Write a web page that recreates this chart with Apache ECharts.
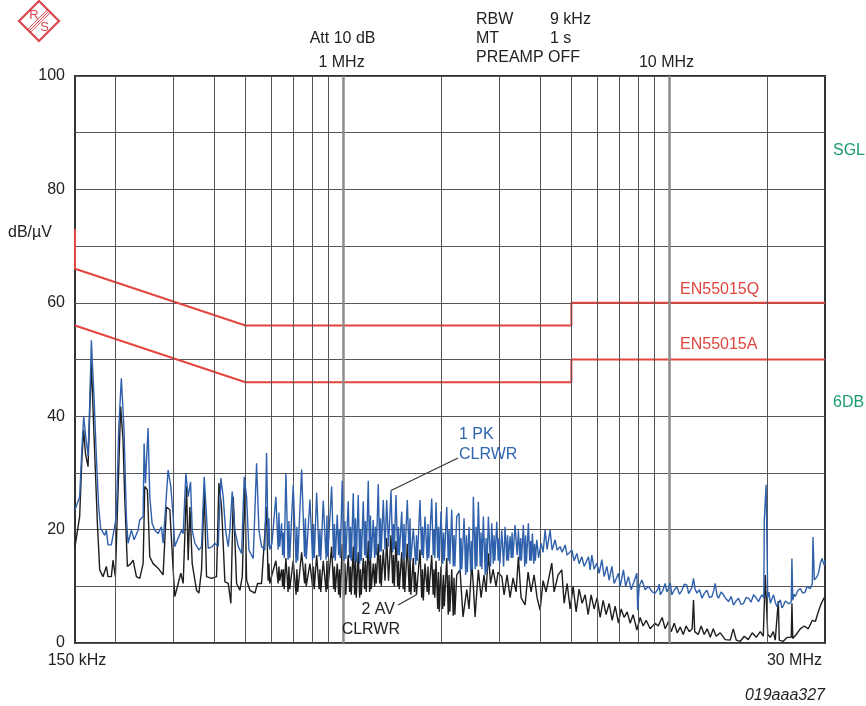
<!DOCTYPE html>
<html><head><meta charset="utf-8">
<script src="https://cdn.jsdelivr.net/npm/echarts@6/dist/echarts.min.js"></script>
<style>html,body{margin:0;padding:0;background:#fff}#c{width:866px;height:706px}</style>
</head><body><div id="c"></div>
<script>
const FONT = "'Liberation Sans', Arial, Helvetica, sans-serif";

// frequency axis (MHz, log scale)
const freqMin = 0.15;
const freqMax = 30;
const freqGridLines = [0.2,0.3,0.4,0.5,0.6,0.7,0.8,0.9,1,2,3,4,5,6,7,8,9,10,20];
const freqMajorLines = [1,10];
const yTickLabels = [0,20,40,60,80,100];

// limit lines [MHz, dBuV]
const limitQP = [[0.15,73],[0.15,66],[0.5,56],[5,56],[5,60],[30,60]];
const limitAV = [[0.15,56],[0.5,46],[5,46],[5,50],[30,50]];

// 1 PK CLRWR trace [MHz, dBuV]
const pkTrace = [
[0.150,23.5],[0.155,25.8],[0.1576,34.6],[0.1595,39.9],[0.1614,37.0],[0.1645,33.0],[0.1664,42.0],[0.1684,53.4],[0.170,48.0],[0.1716,43.4],[0.1744,32.9],[0.1773,24.0],[0.1798,20.2],[0.185,19.0],[0.1872,19.9],[0.1894,17.3],[0.1939,17.3],[0.1976,19.9],[0.2009,22.3],[0.2042,37.6],[0.2081,46.7],[0.2121,37.6],[0.2156,22.3],[0.2182,17.6],[0.2234,19.9],[0.2277,18.2],[0.2342,19.9],[0.237,21.7],[0.2427,22.3],[0.2444,35.2],[0.2467,28.2],[0.2514,37.9],[0.2544,25.8],[0.2586,21.1],[0.2635,19.9],[0.2698,19.3],[0.2762,20.5],[0.2795,17.6],[0.2841,23.5],[0.2896,30.5],[0.2951,27.6],[0.3001,22.3],[0.3036,17.0],[0.3109,18.5],[0.3183,19.9],[0.3221,19.3],[0.3283,29.9],[0.3337,25.8],[0.3393,28.4],[0.3433,19.9],[0.3498,17.6],[0.3599,16.4],[0.3667,17.0],[0.3737,29.3],[0.3799,22.3],[0.3844,16.7],[0.3954,17.0],[0.4029,17.6],[0.4126,17.0],[0.4204,29.1],[0.4274,25.8],[0.4345,19.9],[0.4428,17.0],[0.448,19.9],[0.4555,26.7],[0.4641,19.9],[0.4753,17.0],[0.4866,15.8],[0.4958,29.3],[0.5041,25.8],[0.5124,16.4],[0.5283,14.9],[0.541,31.7],[0.550,19.9],[0.5604,17.0],[0.5737,16.4],
[0.5805,33.5],[0.5868,17.0],[0.5902,22.0],[0.5936,16.5],[0.6028,17.5],[0.6200,25.8],[0.6299,16.5],[0.6335,23.0],[0.6371,17.0],[0.6456,21.1],[0.6502,15.5],[0.6539,19.5],[0.6576,15.0],[0.6655,29.9],[0.6759,14.7],[0.6798,21.5],[0.6837,15.0],[0.7007,27.8],[0.7152,14.1],[0.7193,20.5],[0.7234,14.5],[0.7437,30.6],[0.7594,15.2],[0.7638,22.0],[0.7682,14.8],[0.7887,25.3],[0.8037,14.7],[0.8083,21.0],[0.8129,15.0],[0.8269,26.5],[0.8416,15.2],[0.8464,20.0],[0.8512,14.6],[0.8664,25.1],[0.8842,14.7],[0.8893,22.5],[0.8944,15.2],[0.9193,27.6],[0.9324,15.0],[0.9377,21.0],[0.9430,14.5],[0.9565,22.6],[0.9659,15.5],[0.9714,20.0],[0.9769,15.0],[0.9908,28.6],[1.0041,14.5],[1.0099,21.5],[1.0157,14.8],[1.0338,25.0],[1.0440,15.0],[1.0500,20.5],[1.0560,14.5],[1.0710,26.4],[1.0815,14.5],[1.0877,22.0],[1.0939,14.2],[1.1094,26.1],[1.1205,14.0],[1.1269,20.0],[1.1333,14.5],[1.1495,25.0],[1.1607,15.5],[1.1674,21.5],[1.1741,15.0],[1.1908,28.6],[1.2024,14.5],[1.2093,22.5],[1.2162,15.0],[1.2336,21.7],[1.2457,15.0],[1.2528,20.5],[1.2599,15.5],[1.2780,28.0],[1.2907,16.0],[1.2981,22.0],[1.3055,16.2],[1.3241,25.2],[1.3401,16.5],[1.3563,25.2],[1.3740,17.0],[1.3983,26.9],[1.4150,16.0],[1.4231,21.0],[1.4312,16.5],[1.4483,26.1],[1.4659,15.5],[1.4743,20.5],[1.4827,15.5],[1.5082,23.2],[1.5240,14.5],[1.5327,21.0],[1.5414,15.0],[1.5689,25.2],[1.5901,15.0],[1.5992,22.0],[1.6083,14.5],[1.6368,20.2],[1.6648,13.8],[1.6743,19.0],[1.6838,14.5],[1.7164,25.2],[1.7369,15.5],[1.7469,20.5],[1.7569,15.0],[1.7777,22.3],[1.8055,14.5],[1.8158,21.0],[1.8261,15.0],[1.8642,25.5],[1.8840,15.5],[1.8948,20.0],[1.9056,15.0],[1.9218,24.8],[1.9451,15.0],[1.9562,20.5],[1.9673,14.5],[1.9910,23.2],[2.0150,14.0],[2.0266,19.5],[2.0382,14.5],[2.0730,24.0],[2.0950,14.5],[2.1070,20.0],[2.1190,14.0],[2.1475,23.5],[2.1703,13.5],[2.1827,19.0],[2.1951,13.5],[2.2248,22.3],
[2.261,22.9],[2.280,12.5],[2.293,18.5],[2.306,13.0],[2.343,22.0],[2.370,12.0],[2.384,19.0],[2.398,12.5],[2.427,20.5],[2.456,12.5],[2.470,18.0],[2.484,13.0],[2.502,25.8],[2.535,13.0],[2.550,20.5],[2.565,13.5],[2.592,24.9],[2.627,13.5],[2.642,19.5],[2.657,13.0],[2.685,22.3],[2.720,12.0],[2.736,18.5],[2.752,12.5],[2.782,22.3],[2.825,13.5],[2.849,21.1],[2.880,14.0],[2.896,19.0],[2.912,14.5],[2.952,21.4],[2.983,14.5],[3.000,18.5],[3.017,14.0],[3.058,19.9],[3.097,13.5],[3.130,20.5],[3.168,14.5],[3.186,19.0],[3.204,14.5],[3.243,18.8],[3.270,15.0],[3.289,19.5],[3.308,15.0],[3.359,20.8],[3.407,15.5],[3.439,19.9],[3.473,14.5],[3.493,18.5],[3.513,14.5],[3.562,20.8],[3.597,13.5],[3.618,19.0],[3.639,14.0],[3.690,21.1],[3.727,14.5],[3.748,18.0],[3.769,14.5],[3.796,19.3],[3.833,14.0],[3.855,17.5],[3.877,14.5],[3.916,18.2],[3.966,15.0],
[4.037,17.6],[4.095,16.0],[4.153,19.9],[4.212,16.5],[4.302,19.9],[4.364,16.4],[4.457,18.2],[4.521,16.4],[4.617,17.0],[4.684,16.0],[4.784,17.3],[4.852,15.5],[5.016,16.4],[5.099,14.5],[5.197,15.8],[5.282,14.0],[5.385,15.2],[5.472,13.5],[5.641,15.2],[5.709,12.9],[5.778,15.5],[5.873,13.0],[5.986,14.1],[6.084,12.3],[6.201,14.7],[6.303,11.7],[6.424,13.5],[6.530,11.1],[6.655,13.5],[6.765,10.5],[6.974,12.3],[7.058,10.0],[7.224,12.9],[7.337,10.0],[7.483,11.7],[7.627,9.4],[7.942,12.3],[7.988,5.8],[8.072,10.0],[8.227,11.1],[8.421,9.4],[8.619,10.0],[8.848,9.0],[9.038,8.8],
[9.233,9.6],[9.30,10.4],[9.366,8.5],[9.53,9.2],[9.701,10.5],[9.81,9.0],[9.929,9.6],[10.05,10.6],[10.17,8.5],[10.35,9.4],[10.54,9.9],[10.73,8.6],[10.92,9.3],[11.11,10.4],[11.31,10.2],[11.45,8.7],[11.58,9.0],[11.72,9.8],[11.85,11.4],[11.98,9.5],[12.14,8.8],[12.36,9.4],[12.58,7.9],[12.80,8.8],[13.02,9.3],[13.26,8.0],[13.50,8.2],[13.66,9.2],[13.82,10.5],[13.98,8.4],[14.14,7.9],[14.40,9.0],[14.65,8.5],[14.91,7.8],[15.18,7.3],[15.45,8.2],[15.72,6.7],[16.00,7.4],[16.29,7.9],[16.58,6.8],[16.88,7.0],[17.18,8.0],[17.48,7.9],[17.79,7.2],[18.11,8.5],[18.43,8.0],[18.76,7.3],[18.99,8.0],[19.22,8.5],[19.47,8.0],[19.54,21.7],[19.71,21.7],[19.79,27.9],[19.95,27.9],[20.02,8.0],[20.20,9.0],[20.38,7.0],[20.62,7.8],[20.86,8.5],[21.11,7.2],[21.37,6.4],[21.62,7.0],[21.88,7.6],[22.13,6.2],[22.39,6.7],[22.68,7.4],[22.98,7.6],[23.30,6.9],[23.64,7.3],[23.75,14.9],[23.89,7.5],[24.10,8.6],[24.31,8.2],[24.75,9.2],[25.19,9.6],[25.64,8.8],[26.10,9.0],[26.40,10.0],[26.72,10.2],[27.05,9.6],[27.43,10.5],[27.56,18.7],[27.82,11.1],[28.09,10.8],[28.36,11.7],[28.70,12.5],[29.02,14.0],[29.37,14.9],[29.60,14.3],[29.85,13.7],[30,14.6]
];

// 2 AV CLRWR trace [MHz, dBuV]
const avTrace = [
[0.150,17.0],[0.155,22.3],[0.1576,32.9],[0.1595,37.6],[0.1614,33.5],[0.1645,31.1],[0.1664,40.5],[0.1684,49.3],[0.1704,41.1],[0.1732,30.5],[0.1757,21.1],[0.1786,12.9],[0.1828,11.7],[0.1872,13.5],[0.1894,11.7],[0.1939,11.7],[0.1962,14.6],[0.1995,11.7],[0.2023,22.9],[0.2071,41.7],[0.2106,35.8],[0.2131,25.8],[0.2172,13.5],[0.2224,14.0],[0.2261,14.6],[0.2315,11.7],[0.237,11.4],[0.2427,14.0],[0.2456,27.6],[0.2502,27.0],[0.2544,15.2],[0.2604,14.0],[0.2698,13.2],[0.2795,12.0],[0.2862,24.0],[0.2931,23.5],[0.3001,12.9],[0.3036,8.2],[0.3109,10.5],[0.3168,12.3],[0.3221,10.5],[0.3298,27.6],[0.3337,14.6],[0.3377,24.0],[0.3433,14.0],[0.354,9.3],[0.3599,8.8],[0.3667,12.9],[0.3737,27.0],[0.3799,11.7],[0.3935,11.4],[0.4077,11.7],[0.4145,28.2],[0.4224,24.0],[0.4325,10.8],[0.4428,10.5],[0.4512,7.0],[0.4587,25.8],[0.4697,10.5],[0.4809,9.3],[0.4889,11.7],[0.4981,27.6],[0.5041,11.1],[0.5161,9.3],[0.5346,8.8],[0.5448,10.5],[0.5604,10.5],
[0.5805,24.0],[0.5868,11.0],[0.5902,14.0],[0.5936,10.5],[0.6028,12.0],[0.6200,14.5],[0.6299,10.5],[0.6335,13.5],[0.6371,11.0],[0.6456,13.0],[0.6502,10.0],[0.6539,13.0],[0.6576,9.5],[0.6655,15.0],[0.6759,9.0],[0.6798,13.5],[0.6837,9.5],[0.7007,14.5],[0.7152,8.5],[0.7193,13.0],[0.7234,9.0],[0.7437,16.0],[0.7594,10.5],[0.7638,14.0],[0.7682,10.0],[0.7887,14.0],[0.8037,10.0],[0.8083,13.5],[0.8129,9.5],[0.8269,15.5],[0.8416,9.5],[0.8464,13.0],[0.8512,9.0],[0.8664,14.5],[0.8842,9.0],[0.8893,14.5],[0.8944,9.5],[0.9193,17.0],[0.9324,9.5],[0.9377,13.5],[0.9430,9.0],[0.9565,14.0],[0.9659,8.5],[0.9714,13.0],[0.9769,8.0],[0.9908,17.5],[1.0041,8.0],[1.0099,14.0],[1.0157,8.5],[1.0338,15.5],[1.0440,9.0],[1.0500,13.5],[1.0560,8.5],[1.0710,17.0],[1.0815,8.5],[1.0877,15.0],[1.0939,8.0],[1.1094,16.0],[1.1205,8.0],[1.1269,13.0],[1.1333,8.5],[1.1495,15.0],[1.1607,9.5],[1.1674,14.5],[1.1741,9.0],[1.1908,18.0],[1.2024,9.0],[1.2093,15.5],[1.2162,9.5],[1.2336,14.0],[1.2457,10.0],[1.2528,14.0],[1.2599,10.5],[1.2780,17.5],[1.2907,10.5],[1.2981,15.5],[1.3055,10.0],[1.3241,16.5],[1.3401,11.0],[1.3563,18.5],[1.3740,11.0],[1.3983,19.0],[1.4150,10.5],[1.4231,15.5],[1.4312,10.0],[1.4483,18.0],[1.4659,10.0],[1.4743,14.5],[1.4827,9.5],[1.5082,16.0],[1.5240,9.5],[1.5327,15.0],[1.5414,9.0],[1.5689,17.5],[1.5901,9.0],[1.5992,15.5],[1.6083,8.5],[1.6368,15.0],[1.6500,9.0],[1.6600,12.5],[1.6743,8.5],[1.7164,16.5],[1.7369,8.0],[1.7469,13.0],[1.7569,7.5],[1.7777,14.0],[1.8055,9.0],[1.8158,13.5],[1.8261,8.5],[1.8642,15.5],[1.8840,8.5],[1.8948,13.0],[1.9056,8.0],[1.9218,14.5],[1.9451,6.0],[1.9562,12.5],[1.9673,5.5],[1.9910,13.5],[2.0150,6.0],[2.0266,12.0],[2.0382,6.5],[2.0730,15.0],[2.0950,5.0],[2.1070,12.0],[2.1190,5.5],[2.1475,13.0],[2.1703,4.8],[2.1827,11.5],[2.1951,5.0],[2.2248,12.0],
[2.277,12.9],[2.326,4.6],[2.388,9.4],[2.427,6.0],[2.474,14.1],[2.502,10.0],[2.532,4.6],[2.592,12.9],[2.642,8.0],[2.698,12.0],[2.736,9.0],[2.782,15.8],[2.825,10.5],[2.875,13.0],[2.937,10.0],[2.979,12.5],[3.058,11.7],[3.109,8.5],[3.175,12.0],[3.243,8.0],[3.312,11.5],[3.383,9.0],[3.439,15.2],[3.505,8.0],[3.606,6.7],[3.683,12.5],[3.761,9.0],[3.842,12.0],[3.924,8.0],[4.009,5.8],[4.095,11.0],[4.182,9.0],[4.354,14.1],[4.426,9.0],[4.553,12.0],[4.673,12.9],[4.750,7.0],[4.852,10.5],[4.957,6.0],[5.063,10.0],[5.171,5.5],[5.282,9.5],[5.395,7.0],[5.511,8.5],[5.629,5.0],[5.750,8.5],[5.873,6.0],[5.998,8.0],[6.127,4.5],[6.258,7.5],[6.391,5.0],[6.530,7.0],[6.670,4.0],[6.813,6.5],[6.974,3.5],[7.108,6.0],[7.260,4.5],[7.415,5.5],[7.573,3.5],[7.734,5.0],[7.942,2.3],[8.128,4.5],[8.303,3.0],[8.481,4.0],[8.723,2.5],[9.038,3.5],
[9.233,3.0],[9.497,4.5],[9.701,2.5],[9.929,3.8],[10.12,2.0],[10.34,3.5],[10.56,1.8],[10.79,2.8],[11.02,1.5],[11.25,3.0],[11.50,2.0],[11.74,2.5],[11.85,7.6],[11.95,2.0],[12.25,1.5],[12.51,3.0],[12.78,1.5],[13.05,2.5],[13.34,1.0],[13.62,2.5],[13.91,1.2],[14.31,1.8],[14.83,0.6],[15.36,0.5],[15.69,2.5],[16.03,0.5],[16.49,0.3],[16.96,1.2],[17.44,0.6],[17.94,1.8],[18.46,1.0],[18.99,2.0],[19.40,1.2],[19.67,12.0],[19.81,12.0],[20.02,1.5],[20.38,1.0],[20.82,2.0],[21.11,0.5],[21.37,0.8],[21.57,7.4],[21.72,0.5],[22.34,0.3],[22.98,1.0],[23.64,1.0],[23.75,7.0],[23.89,0.8],[24.49,1.5],[25.19,2.5],[25.91,3.0],[26.66,2.5],[27.43,4.0],[28.02,3.8],[28.62,5.5],[29.23,7.0],[29.85,8.0],[30,8.2]
];

// annotation anchors [MHz, dBuV]
const pkLeaderTarget = [1.3983, 26.9];
const avLeaderTarget = [1.6743, 8.5];

const chart = echarts.init(document.getElementById('c'), null, {renderer:'canvas'});
chart.setOption({
  animation:false,
  backgroundColor:'#fff',
  grid:{left:75, top:76, width:750, height:567, show:true, borderColor:'#333', borderWidth:2, backgroundColor:'transparent', containLabel:false},
  xAxis:{type:'log', logBase:10, min:freqMin, max:freqMax,
    axisLine:{show:false}, axisTick:{show:false}, axisLabel:{show:false}, splitLine:{show:false}},
  yAxis:{type:'value', min:0, max:100, interval:10,
    axisLine:{show:false}, axisTick:{show:false},
    axisLabel:{formatter:v=>yTickLabels.includes(v)?String(v):'', fontSize:16, color:'#222', fontFamily:FONT, margin:10},
    splitLine:{lineStyle:{color:'#555', width:1}}},
  series:[
    {type:'line', data:[], z:1, silent:true,
      markLine:{silent:true, symbol:['none','none'], label:{show:false}, animation:false,
        data:freqGridLines.map(f=>({xAxis:f, lineStyle:{type:'solid', color:freqMajorLines.includes(f)?'#8c8c8c':'#555', width:freqMajorLines.includes(f)?2.5:1}}))}},
    {name:'EN55015Q', type:'line', data:limitQP, showSymbol:false, symbol:'none', z:3, lineStyle:{color:'#e5463f', width:2}},
    {name:'EN55015A', type:'line', data:limitAV, showSymbol:false, symbol:'none', z:3, lineStyle:{color:'#e5463f', width:2}},
    {name:'2 AV', type:'line', data:avTrace, showSymbol:false, symbol:'none', z:4, lineStyle:{color:'#1e1e1e', width:1.4}},
    {name:'1 PK', type:'line', data:pkTrace, showSymbol:false, symbol:'none', z:5, lineStyle:{color:'#2f60ac', width:1.4}}
  ]
});

const px = f => chart.convertToPixel({xAxisIndex:0}, f);
const pt = p => chart.convertToPixel({gridIndex:0}, p);
const txt = (x, y, text, o={}) => ({type:'text', x, y, z:100, silent:true,
  style:Object.assign({text, fontSize:16, fontFamily:FONT, fill:'#222', align:'left', verticalAlign:'middle'}, o)});
const pkT = pt(pkLeaderTarget), avT = pt(avLeaderTarget);
const cx = 39, cy = 21, r = 20, LOGO = '#d9474f';
const stripe = d => ({type:'line', z:100, shape:{x1:cx-10+d, y1:cy+10+d, x2:cx+10+d, y2:cy-10+d}, style:{stroke:LOGO, lineWidth:1}});
chart.setOption({graphic:[
  {type:'polygon', z:100, shape:{points:[[cx,cy-r],[cx+r,cy],[cx,cy+r],[cx-r,cy]]}, style:{fill:'none', stroke:LOGO, lineWidth:2.2}},
  stripe(-1.4), stripe(0), stripe(1.4),
  txt(cx-5, cy-5.5, 'R', {fontSize:13, fill:LOGO, align:'center'}),
  txt(cx+5.5, cy+6, 'S', {fontSize:13, fill:LOGO, align:'center'}),
  txt(px(1)-1, 39, 'Att 10 dB', {align:'center'}),
  txt(px(1)-2, 63, '1 MHz', {align:'center'}),
  txt(px(10)-3, 63, '10 MHz', {align:'center'}),
  txt(476, 20, 'RBW'), txt(550, 20, '9 kHz'),
  txt(476, 39, 'MT'), txt(550, 39, '1 s'),
  txt(476, 58, 'PREAMP OFF'),
  txt(833, 151, 'SGL', {fill:'#1c9c6b'}),
  txt(833, 403, '6DB', {fill:'#1c9c6b'}),
  txt(680, 290, 'EN55015Q', {fill:'#e0453f'}),
  txt(680, 345, 'EN55015A', {fill:'#e0453f'}),
  txt(8, 233, 'dB/\u00b5V'),
  txt(459, 435, '1 PK', {fill:'#2e64b0'}),
  txt(459, 455, 'CLRWR', {fill:'#2e64b0'}),
  {type:'line', z:100, shape:{x1:458, y1:458, x2:pkT[0], y2:pkT[1]}, style:{stroke:'#333', lineWidth:1.2}},
  txt(395, 610, '2 AV', {align:'right'}),
  txt(400, 630, 'CLRWR', {align:'right'}),
  {type:'line', z:100, shape:{x1:398, y1:605, x2:avT[0], y2:avT[1]}, style:{stroke:'#333', lineWidth:1.2}},
  txt(px(freqMin)+2, 661, '150 kHz', {align:'center'}),
  txt(px(freqMax)-3, 661, '30 MHz', {align:'right'}),
  txt(825, 696, '019aaa327', {align:'right', fontStyle:'italic'})
]});
</script>
</body></html>
